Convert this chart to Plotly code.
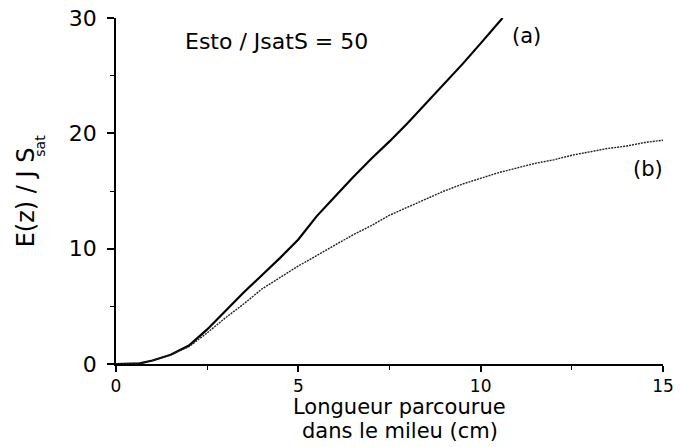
import plotly.graph_objects as go

# Curve (a)
xa = [0.0, 0.65, 1.0, 1.5, 2.0, 2.5, 3.0, 3.5, 4.0, 4.5, 5.0, 5.5, 6.0, 6.5, 7.0, 7.5, 8.0, 8.5, 9.0, 9.5, 10.0, 10.6]
ya = [0.0, 0.05, 0.3, 0.8, 1.6, 3.0, 4.6, 6.2, 7.7, 9.2, 10.8, 12.8, 14.5, 16.2, 17.8, 19.3, 20.9, 22.6, 24.3, 26.0, 27.8, 30.0]

# Curve (b)
xb = [0.0, 0.65, 1.0, 1.5, 2.0, 2.5, 3.0, 3.5, 4.0, 4.5, 5.0, 5.5, 6.0, 6.5, 7.0, 7.5, 8.0, 8.5, 9.0, 9.5,
      10.0, 10.5, 11.0, 11.5, 12.0, 12.5, 13.0, 13.5, 14.0, 14.5, 15.0]
yb = [0.0, 0.05, 0.3, 0.8, 1.5, 2.7, 4.0, 5.2, 6.5, 7.5, 8.5, 9.4, 10.3, 11.2, 12.0, 12.9, 13.6, 14.3, 15.0, 15.6,
      16.1, 16.6, 17.0, 17.4, 17.7, 18.1, 18.4, 18.7, 18.9, 19.2, 19.4]

x_ticks = [0, 5, 10, 15]
y_ticks = [0, 10, 20, 30]

FONT = "DejaVu Sans, Liberation Sans, Arial, sans-serif"

fig = go.Figure()
fig.add_trace(go.Scatter(x=xa, y=ya, mode="lines", line=dict(color="black", width=2.2), showlegend=False))
fig.add_trace(go.Scatter(x=xb, y=yb, mode="lines", line=dict(color="#222222", width=1.4, dash="2px,1px"),
                         showlegend=False))

fig.add_annotation(x=4.39, y=28.0, text="Esto / JsatS = 50", showarrow=False,
                   font=dict(size=22, color="black", family=FONT), xanchor="center", yanchor="middle")
fig.add_annotation(x=11.27, y=28.4, text="(a)", showarrow=False,
                   font=dict(size=21, color="black", family=FONT), xanchor="center", yanchor="middle")
fig.add_annotation(x=14.59, y=16.9, text="(b)", showarrow=False,
                   font=dict(size=21, color="black", family=FONT), xanchor="center", yanchor="middle")
fig.add_annotation(x=-0.165, y=0.481, xref="paper", yref="paper", text="E(z) / J S",
                   textangle=-90, showarrow=False, font=dict(size=24, color="black", family=FONT),
                   xanchor="center", yanchor="middle")
fig.add_annotation(x=-0.1395, y=0.63, xref="paper", yref="paper", text="sat",
                   textangle=-90, showarrow=False, font=dict(size=14, color="black", family=FONT),
                   xanchor="center", yanchor="middle")
fig.add_annotation(x=0.519, y=-0.1243, xref="paper", yref="paper",
                   text="Longueur parcourue", showarrow=False, borderpad=0,
                   font=dict(size=21, color="black", family=FONT), xanchor="center", yanchor="middle")
fig.add_annotation(x=0.519, y=-0.1936, xref="paper", yref="paper",
                   text="dans le mileu (cm)", showarrow=False, borderpad=0,
                   font=dict(size=21, color="black", family=FONT), xanchor="center", yanchor="middle")

fig.update_layout(
    width=680, height=447,
    margin=dict(l=116, r=17, t=18, b=83, autoexpand=False),
    paper_bgcolor="white", plot_bgcolor="white",
    font=dict(family=FONT, color="black", size=21),
    xaxis=dict(range=[0, 15], tickvals=x_ticks, ticktext=[str(v) for v in x_ticks],
               showgrid=False, zeroline=False, showline=True, linecolor="black", linewidth=1.8,
               ticks="outside", ticklen=6, tickwidth=1.5, tickcolor="black", ticklabelstandoff=0,
               ticklabeloverflow="allow",
               minor=dict(dtick=2.5, tick0=0, ticks="outside", ticklen=4, tickcolor="black", tickwidth=1),
               tickfont=dict(size=17)),
    yaxis=dict(range=[0, 30], tickvals=y_ticks, ticktext=[str(v) for v in y_ticks],
               showgrid=False, zeroline=False, showline=True, linecolor="black", linewidth=1.8,
               ticks="outside", ticklen=7, tickwidth=1.5, tickcolor="black", ticklabelstandoff=6,
               ticklabeloverflow="allow",
               minor=dict(dtick=5, tick0=0, ticks="outside", ticklen=4, tickcolor="black", tickwidth=1),
               tickfont=dict(size=22)),
)

fig.write_html("out.html", config={"displayModeBar": False},
               post_script="document.body.style.margin='0';")
